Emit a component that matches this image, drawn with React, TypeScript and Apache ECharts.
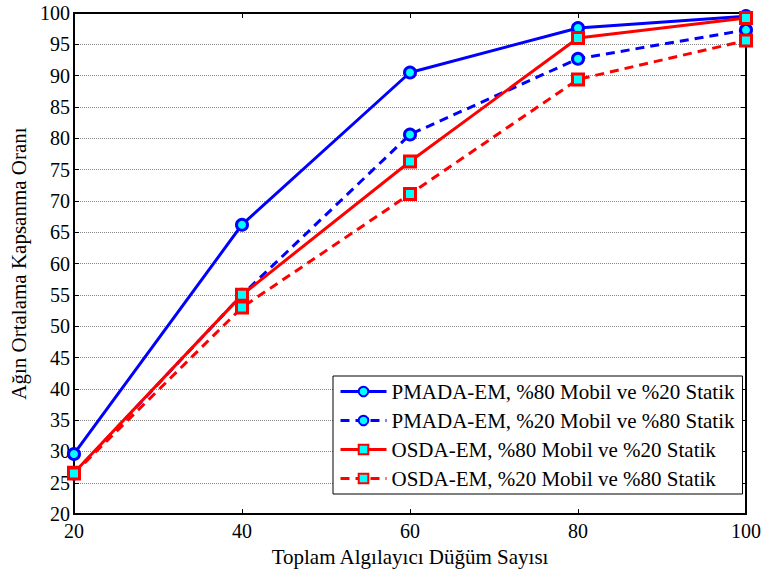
import React, { useEffect, useRef } from "react";
import * as echarts from "echarts";

const xCategories = [20, 40, 60, 80, 100];
const pmada8020 = [29.6, 66.2, 90.5, 97.6, 99.5];
const pmada2080 = [26.5, 55.0, 80.6, 92.7, 97.3];
const osda8020 = [26.6, 55.0, 76.3, 96.0, 99.2];
const osda2080 = [26.5, 53.0, 71.1, 89.4, 95.6];
const seriesNames = [
  "PMADA-EM, %80 Mobil ve %20 Statik",
  "PMADA-EM, %20 Mobil ve %80 Statik",
  "OSDA-EM, %80 Mobil ve %20 Statik",
  "OSDA-EM, %20 Mobil ve %80 Statik",
];

const FONT = "Liberation Serif";

export default function App() {
  const ref = useRef<HTMLDivElement>(null);
  useEffect(() => {
    const chart = echarts.init(ref.current!, undefined, { renderer: "svg" });
    const mk = (name: string, data: number[], color: string, dashed: boolean, symbol: string, size: number) => ({
      name,
      type: "line",
      data: xCategories.map((x, i) => [x, data[i]]),
      symbol,
      symbolSize: size,
      showAllSymbol: true,
      lineStyle: { color, width: 3, type: dashed ? [9, 6] : "solid" },
      itemStyle: { color: "#00ffff", borderColor: color, borderWidth: 3 },
      emphasis: { disabled: true },
    });
    chart.setOption({
      animation: false,
      backgroundColor: "#ffffff",
      grid: { left: 72, right: 15, top: 13, bottom: 55, containLabel: false },
      xAxis: [
        {
          type: "value",
          min: 20,
          max: 100,
          interval: 20,
          axisLine: { onZero: false, lineStyle: { color: "#000", width: 2 } },
          axisTick: { inside: true, length: 5, lineStyle: { color: "#000" } },
          axisLabel: { color: "#000", fontFamily: FONT, fontSize: 20, margin: 7 },
          splitLine: { show: false },
          name: "Toplam Algılayıcı Düğüm Sayısı",
          nameLocation: "middle",
          nameGap: 27,
          nameTextStyle: { color: "#000", fontFamily: FONT, fontSize: 21 },
        },
        {
          type: "value",
          position: "top",
          min: 20,
          max: 100,
          interval: 20,
          axisLine: { onZero: false, lineStyle: { color: "#000", width: 2 } },
          axisTick: { inside: true, length: 5, lineStyle: { color: "#000" } },
          axisLabel: { show: false },
          splitLine: { show: false },
        },
      ],
      yAxis: [
        {
          type: "value",
          min: 20,
          max: 100,
          interval: 5,
          axisLine: { onZero: false, lineStyle: { color: "#000", width: 2 } },
          axisTick: { inside: true, length: 5, lineStyle: { color: "#000" } },
          axisLabel: { color: "#000", fontFamily: FONT, fontSize: 20, margin: 4 },
          splitLine: { show: true, lineStyle: { color: "#888", type: [1, 1], width: 1 } },
          name: "Ağın Ortalama Kapsanma Oranı",
          nameLocation: "middle",
          nameGap: 45,
          nameTextStyle: { color: "#000", fontFamily: FONT, fontSize: 21 },
        },
        {
          type: "value",
          position: "right",
          min: 20,
          max: 100,
          interval: 5,
          axisLine: { onZero: false, lineStyle: { color: "#000", width: 2 } },
          axisTick: { inside: true, length: 5, lineStyle: { color: "#000" } },
          axisLabel: { show: false },
          splitLine: { show: false },
        },
      ],
      legend: {
        orient: "vertical",
        left: 333,
        top: 376,
        itemGap: 8,
        itemWidth: 46,
        itemHeight: 12,
        padding: [5, 8, 5, 6],
        backgroundColor: "#ffffff",
        borderColor: "#000",
        borderWidth: 1,
        borderRadius: 0,
        lineStyle: { width: 3 },
        textStyle: { color: "#000", fontFamily: FONT, fontSize: 21, height: 21, lineHeight: 21 },
        data: seriesNames,
        selectedMode: false,
      },
      series: [
        mk(seriesNames[0], pmada8020, "#0000ff", false, "circle", 11),
        mk(seriesNames[1], pmada2080, "#0000ff", true, "circle", 11),
        mk(seriesNames[2], osda8020, "#ff0000", false, "rect", 11),
        mk(seriesNames[3], osda2080, "#ff0000", true, "rect", 11),
      ],
    });
    return () => chart.dispose();
  }, []);
  return <div ref={ref} style={{ width: 764, height: 572, position: "absolute", left: 0, top: 0 }} />;
}
